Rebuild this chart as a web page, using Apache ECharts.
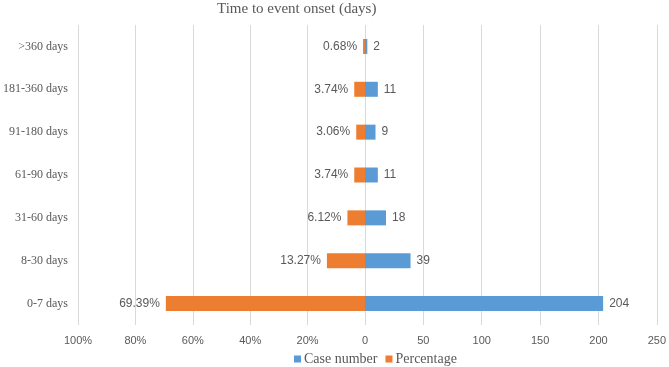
<!DOCTYPE html>
<html>
<head>
<meta charset="utf-8">
<script src="https://cdn.jsdelivr.net/npm/echarts@6/dist/echarts.min.js"></script>
<style>
  html, body { margin: 0; padding: 0; background: #fff; }
  #chart { width: 669px; height: 367px; }
</style>
</head>
<body>
<div id="chart"></div>
<script>
const categories = ['0-7 days', '8-30 days', '31-60 days', '61-90 days', '91-180 days', '181-360 days', '>360 days']
const caseNumber = [204, 39, 18, 11, 9, 11, 2]
const percentage = [69.39, 13.27, 6.12, 3.74, 3.06, 3.74, 0.68]
const pctTicks = [0, 20, 40, 60, 80, 100]
const caseTicks = [0, 50, 100, 150, 200, 250]

const blue = '#5B9BD5'
const orange = '#ED7D31'
const gridColor = '#D9D9D9'
const textColor = '#595959'
const serif = '"Liberation Serif", "DejaVu Serif", serif'
const sans = '"Liberation Sans", Arial, sans-serif'

const chart = echarts.init(document.getElementById('chart'))

const option = {
  animation: false,
  title: {
    text: 'Time to event onset (days)',
    left: 212,
    top: -3,
    textStyle: { fontFamily: serif, fontSize: 15, fontWeight: 'normal', color: textColor }
  },
  legend: {
    top: 347,
    left: 289,
    itemWidth: 7,
    itemHeight: 7,
    itemGap: 8,
    icon: 'rect',
    textStyle: { fontFamily: serif, fontSize: 14, color: textColor, padding: [0, 0, 0, -2] },
    data: ['Case number', 'Percentage']
  },
  grid: [
    { left: 72, width: 293, top: 25, bottom: 42 },
    { left: 365, right: 10, top: 25, bottom: 42 }
  ],
  xAxis: [
    {
      type: 'value',
      gridIndex: 0,
      inverse: true,
      min: pctTicks[0],
      max: pctTicks[pctTicks.length - 1],
      interval: 20,
      axisLine: { show: false },
      axisTick: { show: false },
      splitLine: { show: true, lineStyle: { color: gridColor } },
      axisLabel: {
        color: textColor,
        fontFamily: sans,
        fontSize: 11,
        margin: 10,
        formatter: v => (v === 0 ? '' : v + '%')
      }
    },
    {
      type: 'value',
      gridIndex: 1,
      min: caseTicks[0],
      max: caseTicks[caseTicks.length - 1],
      interval: 50,
      axisLine: { show: false },
      axisTick: { show: false },
      splitLine: { show: true, lineStyle: { color: gridColor } },
      axisLabel: { color: textColor, fontFamily: sans, fontSize: 11, margin: 10 }
    }
  ],
  yAxis: [
    {
      type: 'category',
      gridIndex: 0,
      data: categories,
      axisLine: { show: false },
      axisTick: { show: false },
      axisLabel: { color: textColor, fontFamily: serif, fontSize: 12, margin: 10 }
    },
    {
      type: 'category',
      gridIndex: 1,
      data: categories,
      axisLine: { show: false },
      axisTick: { show: false },
      axisLabel: { show: false }
    }
  ],
  series: [
    {
      name: 'Case number',
      type: 'bar',
      xAxisIndex: 1,
      yAxisIndex: 1,
      barWidth: 15,
      itemStyle: { color: blue },
      label: {
        show: true,
        position: 'right',
        distance: 6,
        color: textColor,
        fontFamily: sans,
        fontSize: 12
      },
      data: caseNumber
    },
    {
      name: 'Percentage',
      type: 'bar',
      xAxisIndex: 0,
      yAxisIndex: 0,
      barWidth: 15,
      itemStyle: { color: orange },
      label: {
        show: true,
        position: 'left',
        distance: 6,
        color: textColor,
        fontFamily: sans,
        fontSize: 12,
        formatter: p => p.value.toFixed(2) + '%'
      },
      data: percentage
    }
  ]
}

chart.setOption(option)
</script>
</body>
</html>
